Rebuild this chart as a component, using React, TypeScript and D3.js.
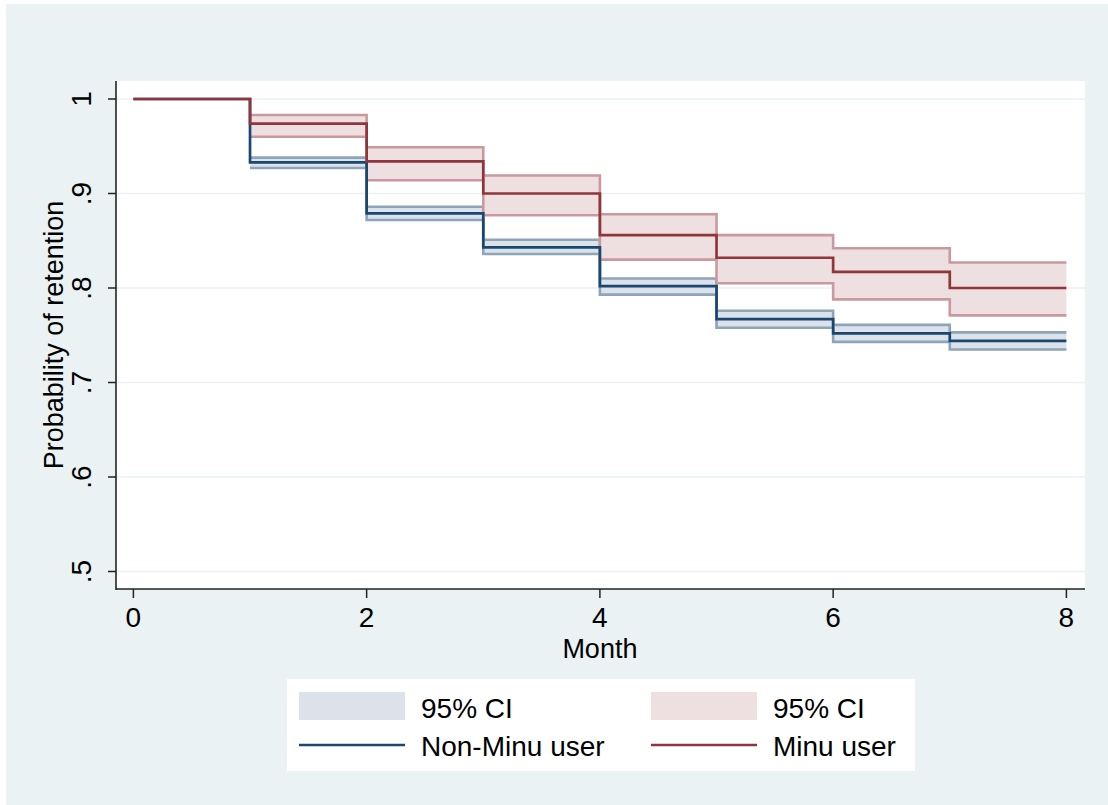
import React from "react";
import * as d3 from "d3";

// Month boundaries of the Kaplan-Meier steps
const months = [0, 1, 2, 3, 4, 5, 6, 7, 8];

// Survival estimates for intervals starting at month 0..7
const nonMinuSurv = [1, 0.933, 0.879, 0.843, 0.802, 0.767, 0.752, 0.744];
const nonMinuLower = [0.927, 0.872, 0.836, 0.793, 0.758, 0.743, 0.735]; // from month 1
const nonMinuUpper = [0.938, 0.886, 0.851, 0.81, 0.776, 0.761, 0.753];

const minuSurv = [1, 0.974, 0.934, 0.9, 0.856, 0.832, 0.817, 0.8];
const minuLower = [0.96, 0.914, 0.877, 0.83, 0.805, 0.788, 0.771];
const minuUpper = [0.983, 0.949, 0.919, 0.878, 0.856, 0.842, 0.827];

const xTicks = [0, 2, 4, 6, 8];
const yTicks = [0.5, 0.6, 0.7, 0.8, 0.9, 1];
const yTickLabels = [".5", ".6", ".7", ".8", ".9", "1"];

const legendItems = [
  { label: "95% CI", kind: "area", group: "non" },
  { label: "95% CI", kind: "area", group: "minu" },
  { label: "Non-Minu user", kind: "line", group: "non" },
  { label: "Minu user", kind: "line", group: "minu" },
];

const W = 1108;
const H = 805;
const plot = { left: 116, right: 1085, top: 81, bottom: 589 };

const colors = {
  bg: "#EAF2F3",
  navy: "#1A476F",
  maroon: "#90353B",
  navyFill: "#DCE2EA",
  maroonFill: "#EEDFE0",
  navyEdge: "#8EA4B9",
  maroonEdge: "#CB999D",
};

const FONT = "'Liberation Sans', Arial, Helvetica, sans-serif";

export default function App() {
  const x = d3.scaleLinear().domain([0, 8]).range([133.4, 1066.4]);
  const y = d3.scaleLinear().domain([0.5, 1]).range([571.5, 99]);

  const survPts = (s: number[]) => {
    const pts: [number, number][] = s.map((v, i) => [months[i], v]);
    pts.push([months[8], s[s.length - 1]]);
    return pts;
  };
  const ciPts = (arr: number[]) => {
    const pts: [number, number][] = arr.map((v, i) => [months[i + 1], v]);
    pts.push([months[8], arr[arr.length - 1]]);
    return pts;
  };

  const line = d3
    .line<[number, number]>()
    .x((d) => x(d[0]))
    .y((d) => y(d[1]))
    .curve(d3.curveStepAfter);

  const area = d3
    .area<[number, number, number]>()
    .x((d) => x(d[0]))
    .y0((d) => y(d[1]))
    .y1((d) => y(d[2]))
    .curve(d3.curveStepAfter);

  const bandPts = (lo: number[], hi: number[]) => {
    const pts: [number, number, number][] = lo.map((v, i) => [months[i + 1], v, hi[i]]);
    pts.push([months[8], lo[lo.length - 1], hi[hi.length - 1]]);
    return pts;
  };

  const band = (lo: number[], hi: number[], fill: string, edge: string) => (
    <g>
      <path d={area(bandPts(lo, hi)) || ""} fill={fill} stroke="none" />
      <path d={line(ciPts(lo)) || ""} fill="none" stroke={edge} strokeWidth={2.6} />
      <path d={line(ciPts(hi)) || ""} fill="none" stroke={edge} strokeWidth={2.6} />
    </g>
  );

  const legendCols = [299, 651];
  const legendRows = [692, 733];

  return (
    <svg
      width={W}
      height={H}
      style={{ position: "absolute", left: 0, top: 0, display: "block" }}
      fontFamily={FONT}
    >
      <rect x={0} y={0} width={W} height={H} fill="#FFFFFF" />
      <rect x={6} y={4} width={W - 6} height={H - 4} fill={colors.bg} />
      <rect
        x={plot.left}
        y={plot.top}
        width={plot.right - plot.left}
        height={plot.bottom - plot.top}
        fill="#FFFFFF"
      />
      {/* grid */}
      {yTicks.map((t) => (
        <line
          key={"g" + t}
          x1={plot.left}
          x2={plot.right}
          y1={y(t)}
          y2={y(t)}
          stroke={colors.bg}
          strokeWidth={1.6}
        />
      ))}
      {/* CI bands */}
      {band(nonMinuLower, nonMinuUpper, colors.navyFill, colors.navyEdge)}
      {band(minuLower, minuUpper, colors.maroonFill, colors.maroonEdge)}
      {/* survival lines */}
      <path d={line(survPts(nonMinuSurv)) || ""} fill="none" stroke={colors.navy} strokeWidth={2.7} />
      <path d={line(survPts(minuSurv)) || ""} fill="none" stroke={colors.maroon} strokeWidth={2.7} />

      {/* axes */}
      <line x1={plot.left} x2={plot.left} y1={plot.top} y2={plot.bottom + 1} stroke="#222" strokeWidth={1.6} />
      <line x1={plot.left} x2={plot.right} y1={plot.bottom} y2={plot.bottom} stroke="#222" strokeWidth={1.6} />
      {yTicks.map((t, i) => (
        <g key={"yt" + t}>
          <line x1={plot.left - 8} x2={plot.left} y1={y(t)} y2={y(t)} stroke="#222" strokeWidth={1.5} />
          <text
            transform={`translate(91, ${y(t)}) rotate(-90)`}
            textAnchor="middle"
            fontSize={28}
            fill="#000"
          >
            {yTickLabels[i]}
          </text>
        </g>
      ))}
      {xTicks.map((t) => (
        <g key={"xt" + t}>
          <line x1={x(t)} x2={x(t)} y1={plot.bottom} y2={plot.bottom + 9} stroke="#222" strokeWidth={1.5} />
          <text x={x(t)} y={627} textAnchor="middle" fontSize={28} fill="#000">
            {t}
          </text>
        </g>
      ))}
      <text x={x(4)} y={658} textAnchor="middle" fontSize={27} fill="#000">
        Month
      </text>
      <text
        transform={`translate(63, ${(plot.top + plot.bottom) / 2}) rotate(-90)`}
        textAnchor="middle"
        fontSize={27}
        fill="#000"
      >
        Probability of retention
      </text>

      {/* legend */}
      <rect x={287} y={679} width={628} height={92} fill="#FFFFFF" />
      {legendItems.map((it, i) => {
        const cx = legendCols[i % 2];
        const ry = legendRows[Math.floor(i / 2)];
        const isNon = it.group === "non";
        return (
          <g key={"lg" + i}>
            {it.kind === "area" ? (
              <rect x={cx} y={ry} width={106} height={28} fill={isNon ? colors.navyFill : colors.maroonFill} />
            ) : (
              <line
                x1={cx}
                x2={cx + 106}
                y1={745}
                y2={745}
                stroke={isNon ? colors.navy : colors.maroon}
                strokeWidth={2.7}
              />
            )}
            <text x={cx + 122} y={it.kind === "area" ? 718 : 756} fontSize={28} fill="#000">
              {it.label}
            </text>
          </g>
        );
      })}
    </svg>
  );
}
